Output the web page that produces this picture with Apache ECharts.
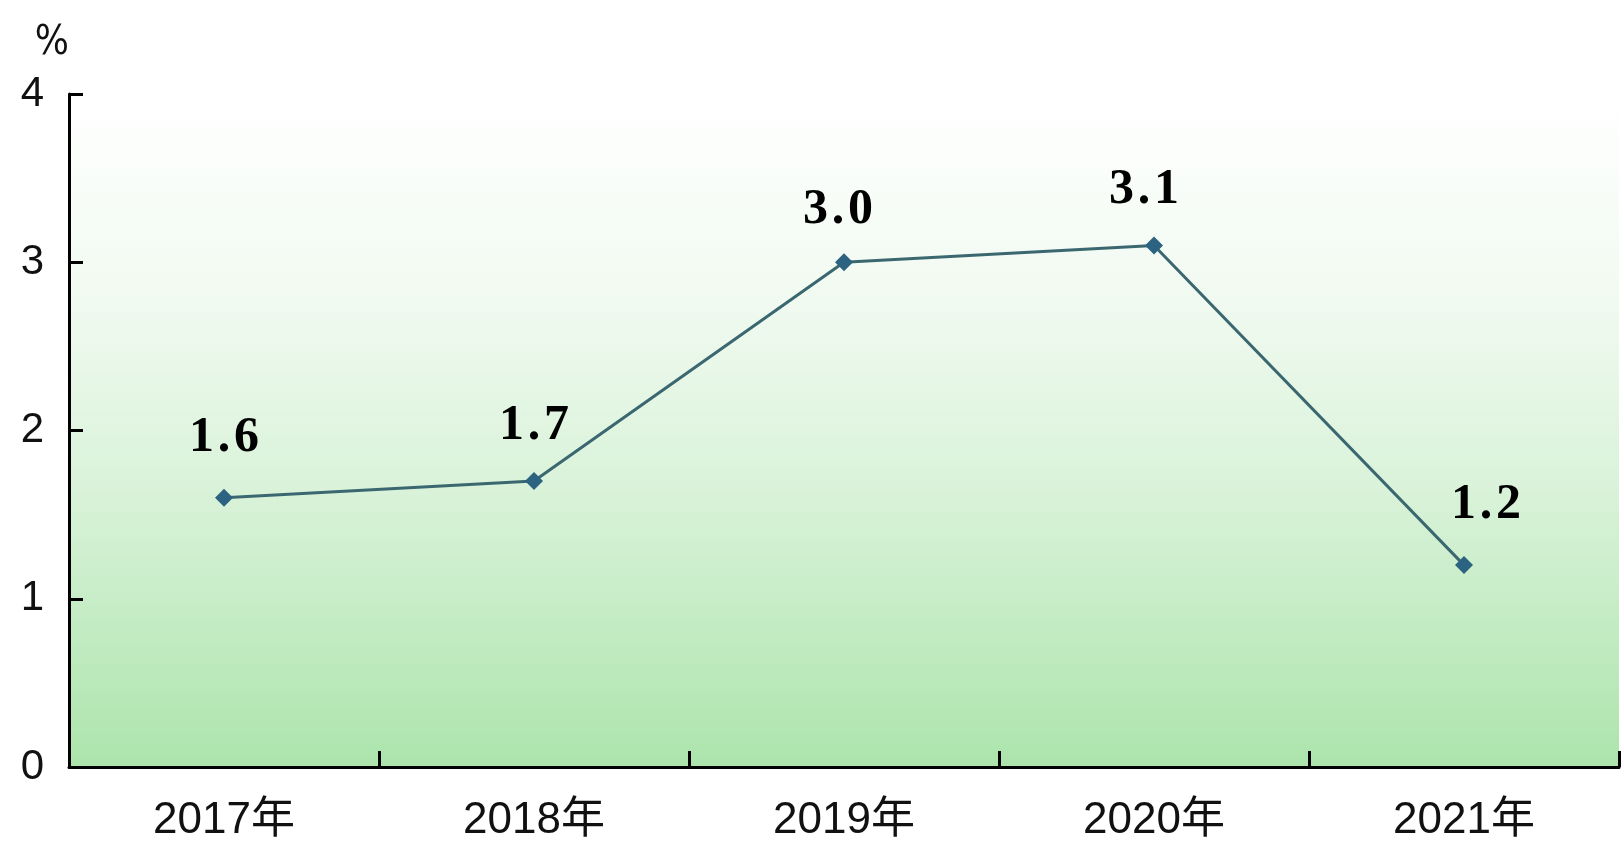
<!DOCTYPE html>
<html>
<head>
<meta charset="utf-8">
<script src="https://cdn.jsdelivr.net/npm/echarts@6/dist/echarts.min.js"></script>
<style>
html,body{margin:0;padding:0;background:#ffffff;}
#chart{width:1621px;height:854px;}
</style>
</head>
<body>
<div id="chart"></div>
<script>
const categories = ['2017年', '2018年', '2019年', '2020年', '2021年'];
const values = [1.6, 1.7, 3.0, 3.1, 1.2];
const yTicks = [0, 1, 2, 3, 4];
const unitLabel = '%';

const chart = echarts.init(document.getElementById('chart'), null, {renderer: 'canvas'});

const labelShift = {0: [0, -8], 1: [0, -3], 2: [-6, 0], 3: [-10, -3], 4: [22, -8]};

const seriesData = values.map((v, i) => {
  const item = {value: v};
  if (labelShift[i]) item.label = {offset: labelShift[i]};
  return item;
});

const option = {
  animation: false,
  backgroundColor: '#ffffff',
  grid: {
    left: 69, right: 2, top: 94, bottom: 87,
    show: true,
    borderWidth: 0,
    backgroundColor: {
      type: 'linear', x: 0, y: 0, x2: 0, y2: 1,
      colorStops: [
        {offset: 0, color: '#ffffff'},
        {offset: 0.3, color: '#f1faf1'},
        {offset: 0.6, color: '#d8f2d8'},
        {offset: 1, color: '#ace4ac'}
      ]
    }
  },
  xAxis: {
    type: 'category',
    data: categories,
    boundaryGap: true,
    axisLine: {show: true, lineStyle: {color: '#000000', width: 3}},
    axisTick: {show: true, inside: true, length: 16, lineStyle: {color: '#000000', width: 3}, alignWithLabel: false},
    axisLabel: {
      color: '#111111', fontSize: 44, margin: 32,
      fontFamily: '"Liberation Sans", Arial, "Noto Sans CJK SC", sans-serif'
    },
    splitLine: {show: false}
  },
  yAxis: {
    type: 'value',
    min: yTicks[0], max: yTicks[yTicks.length - 1], interval: 1,
    name: unitLabel,
    nameLocation: 'end',
    nameGap: 30,
    nameTextStyle: {
      color: '#111111', fontSize: 40, align: 'right', padding: [0, 0, 0, 0],
      fontFamily: '"DejaVu Sans Condensed", "Liberation Sans Narrow", "Noto Sans CJK SC", sans-serif'
    },
    axisLine: {show: true, lineStyle: {color: '#000000', width: 3}},
    axisTick: {show: true, inside: true, length: 14, lineStyle: {color: '#000000', width: 3}},
    axisLabel: {
      color: '#111111', fontSize: 42, margin: 25,
      fontFamily: '"Liberation Sans", Arial, sans-serif'
    },
    splitLine: {show: false}
  },
  series: [{
    type: 'line',
    data: seriesData,
    symbol: 'diamond',
    symbolSize: 18,
    lineStyle: {color: '#3b6870', width: 3},
    itemStyle: {color: '#2b6380'},
    label: {
      show: true,
      position: 'top',
      distance: 18,
      formatter: function (p) {
        const s = Number(p.value).toFixed(1).split('.');
        return '{d|' + s[0] + '}{p|.}{d|' + s[1] + '}';
      },
      rich: {
        d: {fontSize: 50, fontWeight: 'bold', color: '#000000', fontFamily: '"Liberation Serif", "DejaVu Serif", serif'},
        p: {fontSize: 50, fontWeight: 'bold', color: '#000000', width: 20, align: 'left', fontFamily: '"Liberation Serif", "DejaVu Serif", serif'}
      }
    }
  }]
};

chart.setOption(option);
</script>
</body>
</html>
